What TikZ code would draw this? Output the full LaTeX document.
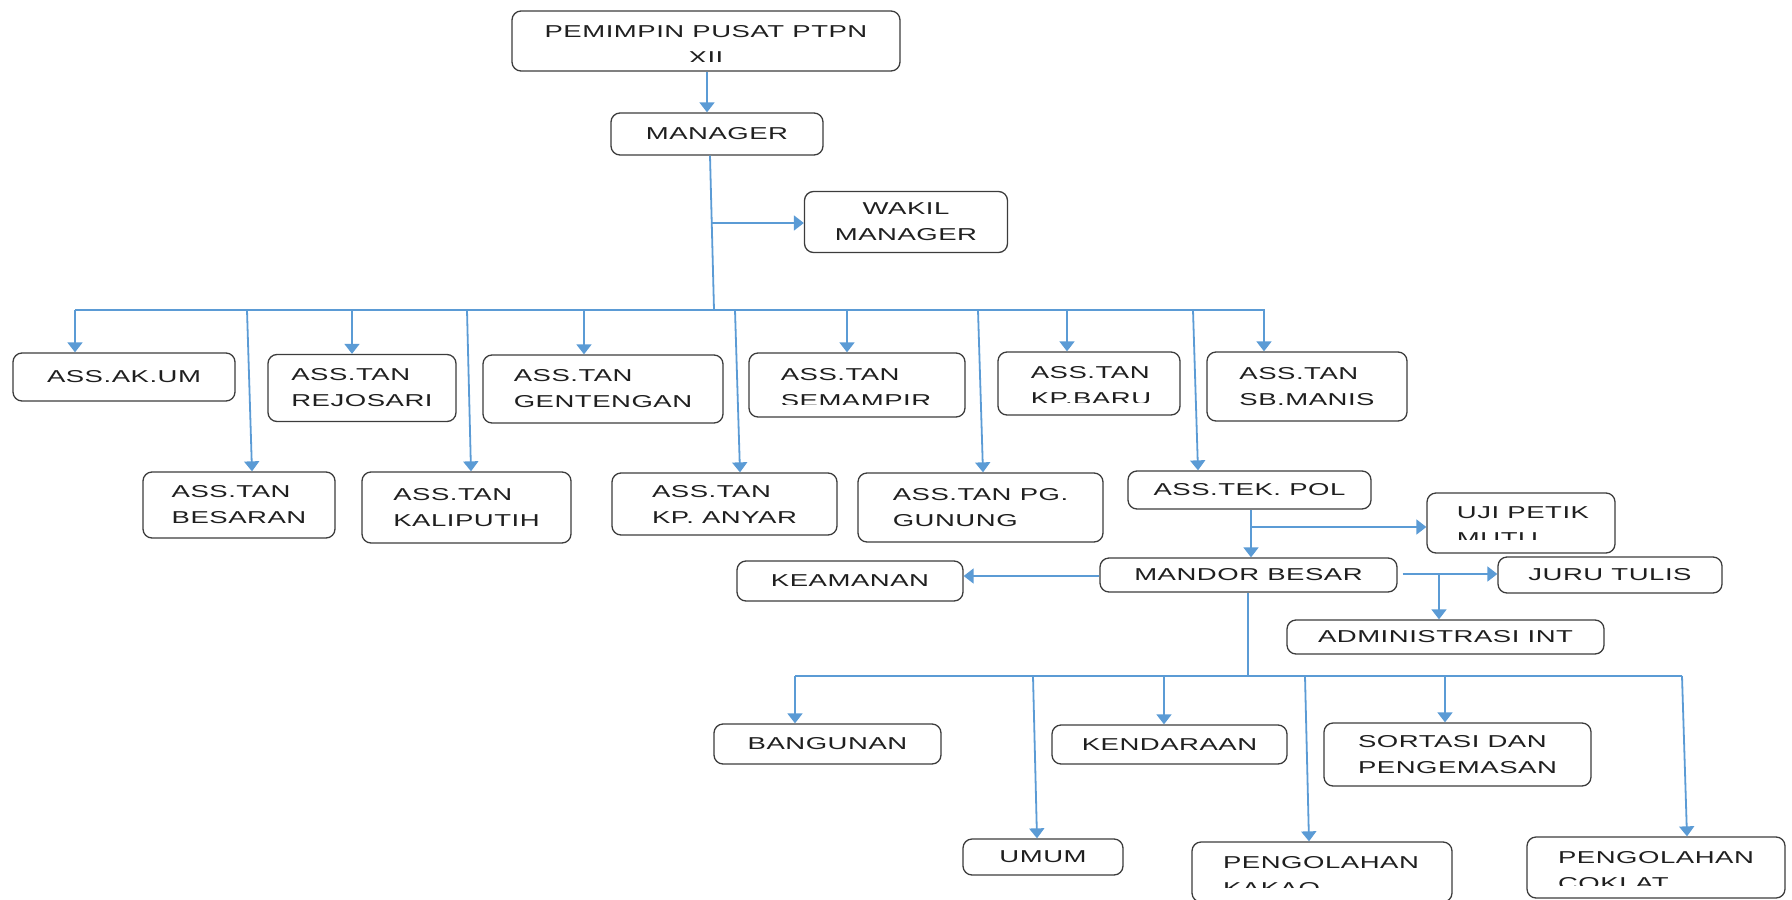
\documentclass[tikz,border=0pt]{standalone}
\usepackage{fontspec}
\setmainfont[FakeStretch=1.6,LetterSpace=3]{Liberation Sans}
\usetikzlibrary{arrows.meta}
\definecolor{linkblue}{HTML}{5B9BD5}
\definecolor{boxgray}{HTML}{3C3C3C}

\begin{document}
\begin{tikzpicture}[x = 1pt, y = -1pt,
		box/.style = {draw = boxgray, line width = 1.3pt, rounded corners = 9pt, inner sep = 2pt, text = black!88, font = \fontsize{17.2}{26}\selectfont, align = left},
		lbl/.style = {inner sep = 0pt, text = black!88, font = \fontsize{17.2}{26}\selectfont, align = left},
		link/.style = {color = linkblue, line width = 1.8pt},
		tip/.style = {link, -{Triangle[width = 15pt, length = 10pt]}}]
		\useasboundingbox (0,0) rectangle (1792,900);
		
		\node[box, minimum width = 388pt, minimum height = 60pt] (pusat) at (706,41) {};
		\begin{scope}
			\clip (pusat.north west) rectangle (900,61);
			\node[lbl, align = center] (pusat-t) at (706,44.5) {PEMIMPIN PUSAT PTPN\\XII};
		\end{scope}
		\node[box, minimum width = 212pt, minimum height = 42pt] (manager) at (717,134) {MANAGER};
		\node[box, align = center, minimum width = 203pt, minimum height = 61pt] (wakil) at (906,222) {WAKIL\\MANAGER};
		
		\node[box, minimum width = 222pt, minimum height = 48pt] (akum) at (124,377) {ASS.AK.UM};
		\node[box, minimum width = 188pt, minimum height = 67pt] (rejosari) at (362,388) {ASS.TAN\\REJOSARI};
		\node[box, minimum width = 240pt, minimum height = 68pt] (gentengan) at (603,389) {ASS.TAN\\GENTENGAN};
		\node[box, minimum width = 216pt, minimum height = 64pt] (semampir) at (857,385) {};
		\begin{scope}
			\clip (semampir.north west) rectangle (965,404);
			\node[lbl] (semampir-t) at (856,388) {ASS.TAN\\SEMAMPIR};
		\end{scope}
		\node[box, minimum width = 182pt, minimum height = 63pt] (kpbaru) at (1089,383.5) {};
		\begin{scope}
			\clip (kpbaru.north west) rectangle (1180,402);
			\node[lbl] (kpbaru-t) at (1091,385.5) {ASS.TAN\\KP.BARU};
		\end{scope}
		\node[box, minimum width = 200pt, minimum height = 69pt] (sbmanis) at (1307,386.5) {ASS.TAN\\SB.MANIS};
		
		\node[box, minimum width = 192pt, minimum height = 66pt] (besaran) at (239,505) {ASS.TAN\\BESARAN};
		\node[box, minimum width = 209pt, minimum height = 71pt] (kaliputih) at (466.5,507.5) {ASS.TAN\\KALIPUTIH};
		\node[box, minimum width = 225pt, minimum height = 62pt] (kpanyar) at (724.5,504) {ASS.TAN\\KP. ANYAR};
		\node[box, minimum width = 245pt, minimum height = 69pt] (gunung) at (980.5,507.5) {ASS.TAN PG.\\GUNUNG};
		\node[box, minimum width = 243pt, minimum height = 38pt] (tekpol) at (1249.5,490) {ASS.TEK. POL};
		
		\node[box, minimum width = 188pt, minimum height = 60pt] (uji) at (1521,523) {};
		\begin{scope}
			\clip (uji.north west) rectangle (1615,539);
			\node[lbl] (uji-t) at (1523,525.5) {UJI PETIK\\MUTU};
		\end{scope}
		\node[box, minimum width = 297pt, minimum height = 34pt] (mandor) at (1248.5,575) {MANDOR BESAR};
		\node[box, minimum width = 226pt, minimum height = 40pt] (keamanan) at (850,581) {KEAMANAN};
		\node[box, minimum width = 224pt, minimum height = 36pt] (juru) at (1610,575) {JURU TULIS};
		\node[box, minimum width = 317pt, minimum height = 34pt] (admin) at (1445.5,637) {ADMINISTRASI INT};
		
		\node[box, minimum width = 227pt, minimum height = 40pt] (bangunan) at (827.5,744) {BANGUNAN};
		\node[box, minimum width = 235pt, minimum height = 39pt] (kendaraan) at (1169.5,744.5) {KENDARAAN};
		\node[box, minimum width = 267pt, minimum height = 63pt] (sortasi) at (1457.5,754.5) {SORTASI DAN\\PENGEMASAN};
		\node[box, minimum width = 160pt, minimum height = 36pt] (umum) at (1043,857) {UMUM};
		\node[box, minimum width = 260pt, minimum height = 60pt] (kakao) at (1322,872) {};
		\begin{scope}
			\clip (kakao.north west) rectangle (1452,887);
			\node[lbl] (kakao-t) at (1321,875.5) {PENGOLAHAN\\KAKAO};
		\end{scope}
		\node[box, minimum width = 258pt, minimum height = 61pt] (coklat) at (1656,867.5) {};
		\begin{scope}
			\clip (coklat.north west) rectangle (1785,885);
			\node[lbl] (coklat-t) at (1656,870.5) {PENGOLAHAN\\COKLAT};
		\end{scope}
		
		\draw[tip] (pusat.south -| 707,0) -- (manager.north -| 707,0);
		\coordinate (bus) at (714,310);
		\coordinate (wstem) at (711,223);
		\draw[link] (manager.south -| 710,0) -- (bus);
		\draw[tip] (wstem) -- (wstem -| wakil.west);
		
		\draw[link] (bus -| 75,0) -- (bus -| 1265,0);
		\draw[tip] (bus -| 75,0) -- (akum.north -| 75,0);
		\draw[tip] (bus -| 352,0) -- (rejosari.north -| 352,0);
		\draw[tip] (bus -| 584,0) -- (gentengan.north -| 584,0);
		\draw[tip] (bus -| 847,0) -- (semampir.north -| 847,0);
		\draw[tip] (bus -| 1067,0) -- (kpbaru.north -| 1067,0);
		\draw[tip] (bus -| 1264,0) -- (sbmanis.north -| 1264,0);
		\draw[tip] (bus -| 247,0) -- (besaran.north -| 252,0);
		\draw[tip] (bus -| 467,0) -- (kaliputih.north -| 471,0);
		\draw[tip] (bus -| 735,0) -- (kpanyar.north -| 740,0);
		\draw[tip] (bus -| 978,0) -- (gunung.north -| 983,0);
		\draw[tip] (bus -| 1193,0) -- (tekpol.north -| 1198,0);
		
		\coordinate (tstem) at (1251,527);
		\draw[tip] (tekpol.south -| tstem) -- (mandor.north -| tstem);
		\draw[tip] (tstem) -- (tstem -| uji.west);
		\draw[tip] (mandor.west |- 0,576) -- (keamanan.east |- 0,576);
		\coordinate (astem) at (1439,574);
		\draw[tip] ([xshift = 5pt]mandor.east |- astem) -- (juru.west |- astem);
		\draw[tip] (astem) -- (admin.north -| astem);
		
		\coordinate (bus2) at (1248,676);
		\draw[link] (mandor.south -| bus2) -- (bus2);
		\draw[link] (bus2 -| 795,0) -- (bus2 -| 1682,0);
		\draw[tip] (bus2 -| 795,0) -- (bangunan.north -| 795,0);
		\draw[tip] (bus2 -| 1164,0) -- (kendaraan.north -| 1164,0);
		\draw[tip] (bus2 -| 1445,0) -- (sortasi.north -| 1445,0);
		\draw[tip] (bus2 -| 1033,0) -- (umum.north -| 1037,0);
		\draw[tip] (bus2 -| 1305,0) -- (kakao.north -| 1309,0);
		\draw[tip] (bus2 -| 1682,0) -- (coklat.north -| 1687,0);
\end{tikzpicture}
\end{document}
